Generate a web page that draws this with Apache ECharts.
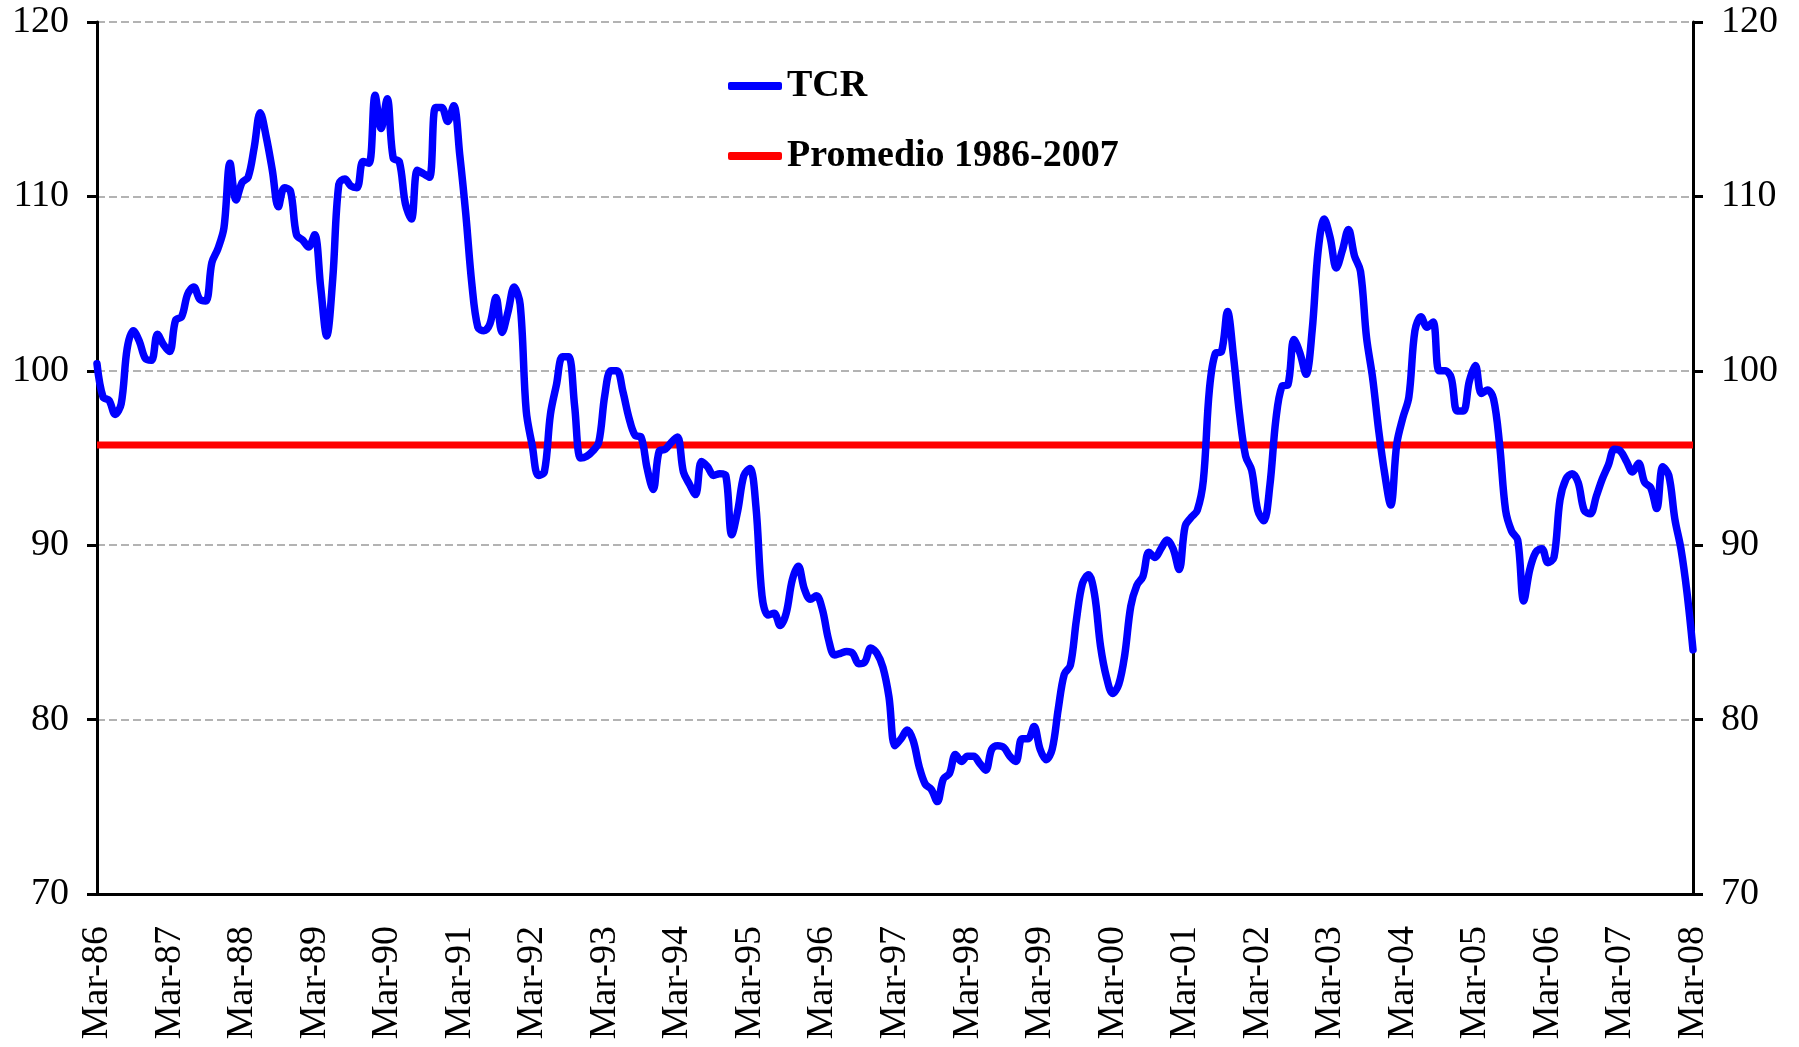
<!DOCTYPE html>
<html>
<head>
<meta charset="utf-8">
<script src="https://cdn.jsdelivr.net/npm/echarts@6/dist/echarts.min.js"></script>
<style>
html,body{margin:0;padding:0;background:#fff;}
#chart{width:1799px;height:1047px;}
</style>
</head>
<body>
<div id="chart"></div>
<script>
// Monthly categories Mar-86 .. Mar-08
const MONTHS = ['Jan','Feb','Mar','Apr','May','Jun','Jul','Aug','Sep','Oct','Nov','Dec'];
const START_YEAR = 1986, START_MONTH = 2, N_POINTS = 265;
const CATEGORIES = [];
for (let i = 0; i < N_POINTS; i++) {
  const mi = START_MONTH + i;
  const y = START_YEAR + Math.floor(mi / 12);
  CATEGORIES.push(MONTHS[mi % 12] + '-' + String(y % 100).padStart(2, '0'));
}

// TCR values
const TCR = [
  100.4, 98.5, 98.3, 97.5, 98.1, 101.3, 102.3, 101.7, 100.7, 100.6, 102.1, 101.5,
  101.1, 102.9, 103.1, 104.4, 104.8, 104.1, 104.0, 106.2, 107.0, 108.2, 111.9, 109.8,
  110.8, 111.1, 112.8, 114.8, 113.4, 111.5, 109.4, 110.5, 110.3, 107.8, 107.5, 107.1,
  107.8, 104.8, 102.0, 105.3, 110.7, 111.0, 110.6, 110.5, 112.0, 111.9, 115.8, 113.9,
  115.6, 112.2, 112.0, 109.6, 108.7, 111.5, 111.3, 111.1, 115.1, 115.1, 114.3, 115.2,
  112.4, 109.0, 105.0, 102.5, 102.3, 102.7, 104.2, 102.2, 103.4, 104.8, 103.8, 97.7,
  95.7, 94.0, 94.2, 97.5, 99.2, 100.8, 100.8, 98.0, 95.0, 95.1, 95.4, 95.9,
  98.6, 100.0, 100.0, 98.8, 97.3, 96.3, 96.2, 94.4, 93.2, 95.4, 95.5, 95.9,
  96.2, 94.2, 93.5, 92.9, 94.8, 94.5, 94.0, 94.1, 94.0, 90.6, 92.0, 94.0,
  94.4, 92.2, 87.1, 86.0, 86.1, 85.4, 86.1, 88.0, 88.8, 87.5, 86.9, 87.1,
  86.3, 84.6, 83.7, 83.8, 83.9, 83.8, 83.2, 83.3, 84.1, 83.8, 83.0, 81.3,
  78.5, 78.9, 79.4, 78.8, 77.3, 76.3, 76.0, 75.3, 76.6, 76.9, 78.0, 77.6,
  77.9, 77.9, 77.5, 77.1, 78.3, 78.5, 78.4, 77.9, 77.6, 78.9, 78.9, 79.6,
  78.3, 77.7, 78.3, 80.6, 82.6, 83.1, 85.7, 87.8, 88.3, 87.2, 84.2, 82.4,
  81.5, 82.0, 83.7, 86.5, 87.7, 88.2, 89.6, 89.3, 89.8, 90.3, 89.8, 88.6,
  91.1, 91.6, 92.0, 93.7, 98.9, 101.0, 101.1, 103.4, 100.8, 97.5, 95.1, 94.3,
  92.0, 91.4, 93.4, 97.2, 99.1, 99.2, 101.8, 101.0, 99.8, 102.3, 106.9, 108.7,
  107.6, 105.9, 106.9, 108.1, 106.6, 105.7, 101.9, 99.6, 96.6, 94.1, 92.3, 95.8,
  97.3, 98.5, 102.3, 103.1, 102.5, 102.8, 100.0, 100.0, 99.6, 97.7, 97.7, 99.4,
  100.3, 98.7, 98.9, 98.4, 95.8, 92.0, 90.8, 90.3, 86.8, 88.6, 89.6, 89.8,
  89.0, 89.3, 92.6, 93.8, 94.1, 93.6, 92.0, 91.8, 92.8, 93.8, 94.6, 95.5,
  95.4, 94.8, 94.2, 94.7, 93.6, 93.3, 92.1, 94.5, 94.0, 91.5, 89.8, 87.3,
  84.0
];

// Average 1986-2007
const PROMEDIO = 95.75;

// Axis ticks
const Y_MIN = 70, Y_MAX = 120, Y_STEP = 10;

const SERIES_TCR = 'TCR';
const SERIES_PROM = 'Promedio 1986-2007';

const FONT = '"Liberation Serif", "Times New Roman", serif';

const chart = echarts.init(document.getElementById('chart'));

const yAxisBase = {
  type: 'value', min: Y_MIN, max: Y_MAX, interval: Y_STEP,
  axisLine: { show: true, lineStyle: { color: '#000', width: 3 } },
  axisTick: { show: true, length: 10, lineStyle: { color: '#000', width: 3 } },
  axisLabel: { color: '#000', fontFamily: FONT, fontSize: 38, margin: 28 }
};

const legendText = { color: '#000', fontFamily: FONT, fontWeight: 'bold', fontSize: 38, lineHeight: 40 };

chart.setOption({
  animation: false,
  backgroundColor: '#fff',
  grid: { left: 97, right: 106, top: 22, bottom: 153, containLabel: false },
  legend: [
    { data: [SERIES_TCR], left: 728, top: 66, padding: 0, icon: 'roundRect',
      itemWidth: 54, itemHeight: 8, textStyle: legendText },
    { data: [SERIES_PROM], left: 728, top: 136, padding: 0, icon: 'roundRect',
      itemWidth: 54, itemHeight: 8, textStyle: legendText }
  ],
  xAxis: {
    type: 'category', data: CATEGORIES, boundaryGap: false,
    axisLine: { show: true, lineStyle: { color: '#000', width: 3 } },
    axisTick: { show: false },
    axisLabel: { interval: 11, rotate: 90, color: '#000', fontFamily: FONT, fontSize: 38,
      margin: 32, padding: [10, 0, 0, 0] },
    splitLine: { show: false }
  },
  yAxis: [
    Object.assign({}, yAxisBase, {
      position: 'left',
      splitLine: { show: true, lineStyle: { color: '#9a9a9a', width: 1.5, type: [8, 4] } }
    }),
    Object.assign({}, yAxisBase, {
      position: 'right',
      splitLine: { show: false }
    })
  ],
  series: [
    {
      name: SERIES_PROM, type: 'line', yAxisIndex: 0,
      data: [[CATEGORIES[0], PROMEDIO], [CATEGORIES[CATEGORIES.length - 1], PROMEDIO]],
      showSymbol: false, symbol: 'none',
      itemStyle: { color: '#ff0000' },
      lineStyle: { color: '#ff0000', width: 7 },
      z: 2
    },
    {
      name: SERIES_TCR, type: 'line', yAxisIndex: 0,
      data: TCR, showSymbol: false, symbol: 'none', smooth: 0.35,
      itemStyle: { color: '#0000ff' },
      lineStyle: { color: '#0000ff', width: 7.5, cap: 'round', join: 'round' },
      z: 3
    }
  ]
});
</script>
</body>
</html>
